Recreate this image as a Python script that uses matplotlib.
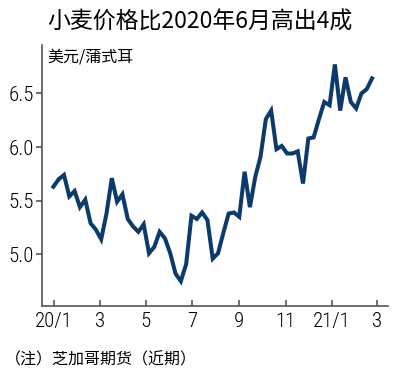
import numpy as np
import pandas as pd
import matplotlib
matplotlib.use("Agg")
import matplotlib.pyplot as plt
import matplotlib.dates as mdates

# weekly wheat futures price, USD per bushel
start_date = "2019-12-31"
prices = [5.63, 5.70, 5.74, 5.54, 5.59, 5.44, 5.51, 5.29, 5.23, 5.14,
          5.38, 5.71, 5.49, 5.56, 5.33, 5.26, 5.21, 5.28, 5.01, 5.07,
          5.21, 5.15, 5.01, 4.82, 4.75, 4.91, 5.36, 5.33, 5.39, 5.32,
          4.96, 5.01, 5.20, 5.38, 5.39, 5.35, 5.77, 5.44, 5.72, 5.91,
          6.26, 6.34, 5.98, 6.01, 5.94, 5.94, 5.96, 5.66, 6.08, 6.09,
          6.26, 6.42, 6.39, 6.77, 6.34, 6.65, 6.42, 6.36, 6.50, 6.54,
          6.64]
dates = pd.date_range(start_date, periods=len(prices), freq="7D")

yticks = [5.0, 5.5, 6.0, 6.5]
xtick_dates = ["2020-01-01", "2020-03-01", "2020-05-01", "2020-07-01",
               "2020-09-01", "2020-11-01", "2021-01-01", "2021-03-01"]
xtick_labels = ["20/1", "3", "5", "7", "9", "11", "21/1", "3"]

title = "小麦价格比2020年6月高出4成"
unit = "美元/蒲式耳"
note = "（注）芝加哥期货（近期）"

cjk = ["Noto Sans CJK SC", "DejaVu Sans"]
narrow = ["Roboto Condensed", "DejaVu Sans"]

fig = plt.figure(figsize=(4.0, 3.76), dpi=100)
ax = fig.add_axes([0.105, 0.186, 0.865, 0.694])

ax.plot(dates, prices, color="#0c3a6c", lw=2.9, solid_joinstyle="miter")

ax.set_ylim(4.518, 6.95)
ax.set_xlim(pd.Timestamp("2019-12-16"), pd.Timestamp("2021-03-16"))
ax.set_yticks(yticks)
ax.set_yticklabels([f"{v:.1f}" for v in yticks], family=narrow,
                   fontsize=15, fontweight="light")
ax.set_xticks(mdates.date2num(pd.to_datetime(xtick_dates)))
ax.set_xticklabels(xtick_labels, family=narrow, fontsize=15, fontweight="light")

for s in ["top", "right"]:
    ax.spines[s].set_visible(False)
for s in ["left", "bottom"]:
    ax.spines[s].set_color("#555555")
    ax.spines[s].set_linewidth(1.2)
ax.tick_params(axis="y", direction="out", length=4, width=1.2, color="#555555", pad=2)
ax.tick_params(axis="x", direction="in", length=4, width=1.2, color="#555555", pad=4)

fig.text(0.5, 0.941, title, ha="center", va="center", family=cjk, fontsize=16.5)
fig.text(0.118, 0.848, unit, ha="left", va="center", family=cjk, fontsize=11.5)
fig.text(0.012, 0.043, note, ha="left", va="center", family=cjk, fontsize=11.5)

fig.savefig("out.png", dpi=100)
